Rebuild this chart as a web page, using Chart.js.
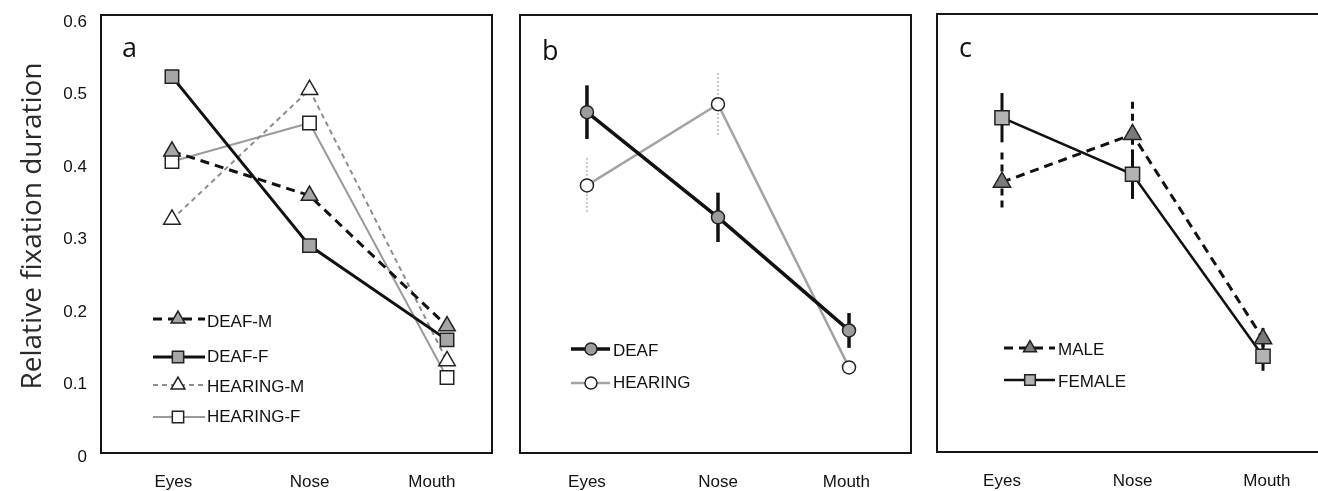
<!DOCTYPE html>
<html>
<head>
<meta charset="utf-8">
<script src="https://cdn.jsdelivr.net/npm/chart.js@4.4.0/dist/chart.umd.min.js"></script>
<style>
  html, body { margin: 0; padding: 0; background: #fff; overflow: hidden; width: 1318px; height: 491px; }
  .panel { position: absolute; top: 0; height: 491px; }
  canvas { display: block; }
</style>
</head>
<body>
<div class="panel" style="left:0px;width:506px"><canvas id="panelA" width="506" height="491"></canvas></div>
<div class="panel" style="left:506px;width:420px"><canvas id="panelB" width="420" height="491"></canvas></div>
<div class="panel" style="left:925px;width:403px"><canvas id="panelC" width="403" height="491"></canvas></div>
<script>
// Face regions on the x axis
const categories = ['Eyes', 'Nose', 'Mouth'];
// Y axis tick values
const yTicks = [0, 0.1, 0.2, 0.3, 0.4, 0.5, 0.6];

// a: group x gender
const deafM    = [0.416, 0.355, 0.175];
const deafF    = [0.519, 0.286, 0.156];
const hearingM = [0.322, 0.501, 0.127];
const hearingF = [0.402, 0.455, 0.104];

// b: by group (mean and error)
const deaf       = [0.470, 0.325, 0.169];
const deafErr    = [0.037, 0.034, 0.024];
const hearing    = [0.369, 0.481, 0.118];
const hearingErr = [0.038, 0.043, 0];

// c: by gender (mean and error)
const male      = [0.372, 0.438, 0.156];
const maleErr   = [0.041, 0.045, 0.015];
const female    = [0.461, 0.383, 0.132];
const femaleErr = [0.034, 0.034, 0.020];

const TEXT_FONT = '"Liberation Sans", Arial, sans-serif';
const LABEL_FONT = '"Open Sans", "Noto Sans", sans-serif';

const toPoints = vals => vals.map((v, i) => ({ x: i, y: v }));

// Keep the plot area exactly where the layout padding puts it
const noScalePadding = s => { s.paddingLeft = 0; s.paddingRight = 0; s.paddingTop = 0; s.paddingBottom = 0; };

// Frame, panel letter, error bars, legend and axis title
const panelDecor = {
  id: 'panelDecor',
  beforeDatasetsDraw(chart, args, opts) {
    const ctx = chart.ctx;
    const ys = chart.scales.y;
    (opts.errors || []).forEach(err => {
      const meta = chart.getDatasetMeta(err.dataset);
      const vals = chart.data.datasets[err.dataset].data;
      ctx.save();
      ctx.strokeStyle = err.color;
      ctx.lineWidth = err.width;
      ctx.setLineDash(err.dash || []);
      err.values.forEach((e, j) => {
        if (!e) return;
        const px = meta.data[j].x;
        const v = vals[j].y;
        ctx.beginPath();
        ctx.moveTo(px, ys.getPixelForValue(v + e));
        ctx.lineTo(px, ys.getPixelForValue(v - e));
        ctx.stroke();
      });
      ctx.restore();
    });
  },
  afterDraw(chart, args, opts) {
    const ctx = chart.ctx;
    const a = chart.chartArea;
    ctx.save();
    // frame
    ctx.strokeStyle = '#151515';
    ctx.lineWidth = 2;
    ctx.setLineDash([]);
    ctx.strokeRect(a.left, a.top, a.right - a.left, a.bottom - a.top);
    // panel letter
    ctx.fillStyle = '#111';
    ctx.font = '27px ' + LABEL_FONT;
    ctx.textAlign = 'left';
    ctx.textBaseline = 'alphabetic';
    ctx.fillText(opts.letter.text, a.left + opts.letter.dx, opts.letter.y);
    // y axis title
    if (opts.yTitle) {
      ctx.save();
      ctx.translate(opts.yTitle.x, opts.yTitle.y);
      ctx.rotate(-Math.PI / 2);
      ctx.font = '28px ' + LABEL_FONT;
      ctx.fillStyle = '#2a2a2a';
      ctx.textAlign = 'center';
      ctx.textBaseline = 'middle';
      ctx.fillText(opts.yTitle.text, 0, 0);
      ctx.restore();
    }
    // legend
    const lg = opts.legend;
    const off = chart.canvas.parentNode.offsetLeft;
    chart.data.datasets.forEach((ds, i) => {
      const row = lg.rows[i];
      ctx.save();
      ctx.strokeStyle = ds.borderColor;
      ctx.lineWidth = ds.borderWidth;
      ctx.setLineDash(ds.borderDash || []);
      ctx.beginPath();
      ctx.moveTo(lg.x0 - off, row.line);
      ctx.lineTo(lg.x1 - off, row.line);
      ctx.stroke();
      ctx.setLineDash([]);
      ctx.fillStyle = ds.pointBackgroundColor;
      ctx.strokeStyle = ds.pointBorderColor;
      ctx.lineWidth = ds.pointBorderWidth;
      Chart.helpers.drawPoint(ctx, {
        pointStyle: ds.pointStyle, rotation: 0,
        radius: lg.radius[i], borderWidth: ds.pointBorderWidth
      }, lg.mx - off, row.line);
      ctx.fillStyle = '#111';
      ctx.font = '17px ' + TEXT_FONT;
      ctx.textAlign = 'left';
      ctx.textBaseline = 'middle';
      ctx.fillText(ds.label, lg.tx - off, row.text);
      ctx.restore();
    });
    ctx.restore();
  }
};

function makePanel(id, p) {
  return new Chart(document.getElementById(id), {
    type: 'line',
    data: { datasets: p.datasets },
    plugins: [panelDecor],
    options: {
      responsive: false,
      animation: false,
      events: [],
      layout: { padding: p.padding, autoPadding: false },
      elements: { line: { tension: 0 } },
      scales: {
        x: {
          type: 'linear',
          min: p.xMin, max: p.xMax,
          grid: { display: false, drawTicks: false },
          border: { display: false },
          afterBuildTicks: s => { s.ticks = p.labelPos.map(v => ({ value: v })); },
          afterFit: s => { s.height = 38; noScalePadding(s); },
          ticks: {
            padding: 19,
            autoSkip: false,
            maxRotation: 0,
            color: '#111',
            font: { family: TEXT_FONT, size: 17 },
            callback: (v, i) => categories[i]
          }
        },
        y: {
          display: p.showY,
          min: 0, max: 0.604,
          grid: { display: false, drawTicks: false },
          border: { display: false },
          afterBuildTicks: s => { s.ticks = yTicks.map(v => ({ value: v })); },
          afterFit: s => { s.width = p.showY ? 101 : 0; noScalePadding(s); },
          ticks: {
            padding: 14,
            labelOffset: 4,
            color: '#111',
            font: { family: TEXT_FONT, size: 17 },
            callback: v => (v === 0 ? '0' : v.toFixed(1))
          }
        }
      },
      plugins: {
        legend: { display: false },
        tooltip: { enabled: false },
        panelDecor: p.decor
      }
    }
  });
}

// Panel a
makePanel('panelA', {
  padding: { left: 0, right: 14, top: 15, bottom: 0 },
  showY: true,
  xMin: -0.516, xMax: 2.327,
  labelPos: [0.01, 1, 1.89],
  datasets: [
    { label: 'DEAF-M', data: toPoints(deafM), borderColor: '#111', borderWidth: 3, borderDash: [9, 6],
      pointStyle: 'triangle', pointRadius: 9.5, pointBackgroundColor: '#a6a6a6', pointBorderColor: '#222', pointBorderWidth: 1.5 },
    { label: 'DEAF-F', data: toPoints(deafF), borderColor: '#111', borderWidth: 3,
      pointStyle: 'rect', pointRadius: 9.5, pointBackgroundColor: '#a6a6a6', pointBorderColor: '#222', pointBorderWidth: 1.5 },
    { label: 'HEARING-M', data: toPoints(hearingM), borderColor: '#8c8c8c', borderWidth: 2, borderDash: [5, 4],
      pointStyle: 'triangle', pointRadius: 9.5, pointBackgroundColor: '#fff', pointBorderColor: '#222', pointBorderWidth: 1.5 },
    { label: 'HEARING-F', data: toPoints(hearingF), borderColor: '#9a9a9a', borderWidth: 2,
      pointStyle: 'rect', pointRadius: 9.5, pointBackgroundColor: '#fff', pointBorderColor: '#222', pointBorderWidth: 1.5 }
  ],
  decor: {
    letter: { text: 'a', dx: 21, y: 57 },
    yTitle: { text: 'Relative fixation duration', x: 33, y: 226 },
    errors: [],
    legend: {
      x0: 153, x1: 205, mx: 178, tx: 207,
      radius: [8, 8, 8, 8],
      rows: [{ line: 319, text: 322 }, { line: 357, text: 357 }, { line: 385, text: 387 }, { line: 417, text: 417 }]
    }
  }
});

// Panel b
makePanel('panelB', {
  padding: { left: 14, right: 15, top: 15, bottom: 0 },
  showY: false,
  xMin: -0.511, xMax: 2.473,
  labelPos: [0, 1, 1.98],
  datasets: [
    { label: 'DEAF', data: toPoints(deaf), borderColor: '#111', borderWidth: 3.5,
      pointStyle: 'circle', pointRadius: 6.5, pointBackgroundColor: '#9c9c9c', pointBorderColor: '#222', pointBorderWidth: 1.5 },
    { label: 'HEARING', data: toPoints(hearing), borderColor: '#a3a3a3', borderWidth: 2.5,
      pointStyle: 'circle', pointRadius: 6.5, pointBackgroundColor: '#fff', pointBorderColor: '#222', pointBorderWidth: 1.5 }
  ],
  decor: {
    letter: { text: 'b', dx: 22, y: 60 },
    errors: [
      { dataset: 1, values: hearingErr, color: '#b5b5b5', width: 1.5, dash: [2, 2] },
      { dataset: 0, values: deafErr, color: '#111', width: 3.5 }
    ],
    legend: {
      x0: 571, x1: 610, mx: 591, tx: 613,
      radius: [6, 6],
      rows: [{ line: 349, text: 351 }, { line: 383, text: 383 }]
    }
  }
});

// Panel c
makePanel('panelC', {
  padding: { left: 12, right: 0, top: 14, bottom: 1 },
  showY: false,
  xMin: -0.498, xMax: 2.498,
  labelPos: [0, 1, 2.03],
  datasets: [
    { label: 'MALE', data: toPoints(male), borderColor: '#111', borderWidth: 3, borderDash: [9, 6],
      pointStyle: 'triangle', pointRadius: 10, pointBackgroundColor: '#7a7a7a', pointBorderColor: '#222', pointBorderWidth: 1.5 },
    { label: 'FEMALE', data: toPoints(female), borderColor: '#111', borderWidth: 2.5,
      pointStyle: 'rect', pointRadius: 10, pointBackgroundColor: '#b3b3b3', pointBorderColor: '#222', pointBorderWidth: 1.5 }
  ],
  decor: {
    letter: { text: 'c', dx: 22, y: 57 },
    errors: [
      { dataset: 0, values: maleErr, color: '#111', width: 3, dash: [7, 5] },
      { dataset: 1, values: femaleErr, color: '#111', width: 3 }
    ],
    legend: {
      x0: 1004, x1: 1055, mx: 1030, tx: 1058,
      radius: [7.5, 7.5],
      rows: [{ line: 348, text: 350 }, { line: 380, text: 382 }]
    }
  }
});
</script>
</body>
</html>
